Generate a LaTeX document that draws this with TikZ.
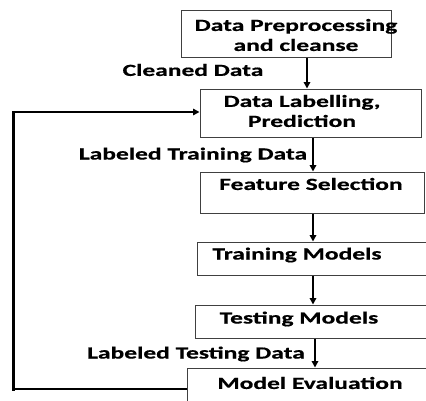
\documentclass[tikz,border=0pt]{standalone}
\usepackage{fontspec}
\newfontfamily\lblfont{Carlito}[FakeStretch=1.5,FakeBold=0.6]
\usetikzlibrary{arrows.meta}
\begin{document}
\begin{tikzpicture}[x=1pt,y=-1pt,
  box/.style={draw=black!75,line width=1pt,inner sep=0pt,fill=none},
  lbl/.style={inner sep=0pt,align=center,font=\lblfont\bfseries\fontsize{17}{20}\selectfont},
  flow/.style={line width=2pt,-{Triangle[length=6.5pt,width=6.5pt]}},
  fb/.style={line width=1.5pt}]
\useasboundingbox (0,0) rectangle (426,400);
% boxes
\node[box,minimum width=210pt,minimum height=47pt] (b1) at (286,33.5) {};
\node[box,minimum width=221pt,minimum height=48pt] (b2) at (310.5,113) {};
\node[box,minimum width=224pt,minimum height=41pt] (b3) at (312,192.5) {};
\node[box,minimum width=240pt,minimum height=33pt] (b4) at (317,258.5) {};
\node[box,minimum width=240pt,minimum height=33pt] (b5) at (315,321.5) {};
\node[box,minimum width=250pt,minimum height=50pt] (b6) at (312,393) {};
% texts
\node[lbl] (t1) at (296,35) {Data Preprocessing\\and cleanse};
\node[lbl] (t2) at (302,111) {Data Labelling,\\Prediction};
\node[lbl] (t3) at (311,184) {Feature Selection};
\node[lbl] (t4) at (297,255) {Training Models};
\node[lbl] (t5) at (299,319) {Testing Models};
\node[lbl] (t6) at (310,383) {Model Evaluation};
\node[lbl] (l1) at (193,70) {Cleaned Data};
\node[lbl] (l2) at (193,155) {Labeled Training Data};
\node[lbl] (l3) at (196,354) {Labeled Testing Data};
% arrows
\draw[flow] (b1.south -| 307,0) -- (b2.north -| 307,0);
\draw[flow] (b2.south -| 313,0) -- (b3.north -| 313,0);
\draw[flow] (b3.south -| 313,0) -- (b4.north -| 313,0);
\draw[flow] (b4.south -| 313,0) -- (b5.north -| 313,0);
\draw[flow] (b5.south -| 315,0) -- (b6.north -| 315,0);
% feedback
\coordinate (c1) at (13,389);
\coordinate (c2) at (13,112);
\draw[fb] (b6.west |- 0,389) -- (c1);
\draw[line width=3pt] (13,390.5) -- (13,111);
\draw[fb,-{Triangle[length=6.5pt,width=6.5pt]}] (c2) -- (b2.west |- 0,112);
\end{tikzpicture}
\end{document}
